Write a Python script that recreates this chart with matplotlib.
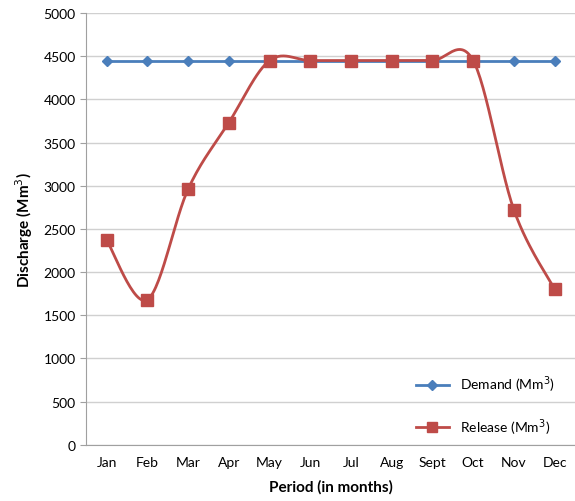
import numpy as np
import matplotlib.pyplot as plt

months = ["Jan", "Feb", "Mar", "Apr", "May", "Jun", "Jul", "Aug", "Sept", "Oct", "Nov", "Dec"]
demand = [4450] * 12
release = [2370, 1680, 2960, 3730, 4450, 4450, 4450, 4450, 4450, 4450, 2720, 1800]


def smooth(xs, ys, n=30):
    # Excel-style smoothed line (Catmull-Rom bezier)
    p = np.column_stack([xs, ys]).astype(float)
    p = np.vstack([p[0], p, p[-1]])
    out = []
    for i in range(1, len(p) - 2):
        p0, p1, p2, p3 = p[i - 1], p[i], p[i + 1], p[i + 2]
        c1 = p1 + (p2 - p0) / 6
        c2 = p2 - (p3 - p1) / 6
        t = np.linspace(0, 1, n)[:, None]
        seg = ((1 - t) ** 3) * p1 + 3 * ((1 - t) ** 2) * t * c1 + 3 * (1 - t) * t ** 2 * c2 + t ** 3 * p2
        out.append(seg)
    s = np.vstack(out)
    return s[:, 0], s[:, 1]


plt.rcParams['font.family'] = ['Lato', 'DejaVu Sans']

fig = plt.figure(figsize=(5.75, 5.02), dpi=100)
ax = fig.add_axes([0.15, 0.112, 0.85, 0.86])

x = np.arange(len(months))
blue = "#4A7EBB"
red = "#BE4B48"

ax.plot(x, demand, color=blue, lw=2, marker="D", ms=5.5, label="Demand (Mm$^3$)", zorder=3)
sx, sy = smooth(x, release)
ax.plot(sx, sy, color=red, lw=2, zorder=4)
ax.plot(x, release, color=red, lw=0, marker="s", ms=8, zorder=5)
ax.plot([], [], color=red, lw=2, marker="s", ms=7, label="Release (Mm$^3$)")

ax.set_xlim(-0.5, 11.5)
ax.set_ylim(0, 5000)
ax.set_yticks(np.arange(0, 5001, 500))
ax.set_xticks(x)
ax.set_xticklabels(months)
ax.grid(axis="y", color="#D0D0D0", lw=1)
ax.set_axisbelow(True)
for s in ["top", "right"]:
    ax.spines[s].set_visible(False)
for s in ["left", "bottom"]:
    ax.spines[s].set_color("#A0A0A0")
ax.tick_params(axis="both", colors="#A0A0A0", labelcolor="black", labelsize=10, length=4)
ax.tick_params(axis="x", length=0, pad=8)

ax.set_xlabel("Period (in months)", fontsize=11, fontweight="bold", labelpad=8)
ax.set_ylabel("Discharge (Mm$^3$)", fontsize=11, fontweight="bold", labelpad=6)

ax.legend(loc="lower right", bbox_to_anchor=(0.985, -0.01), frameon=False,
          fontsize=10, labelspacing=1.55, handlelength=2.4)

fig.savefig("out.png", dpi=100, facecolor="white")
